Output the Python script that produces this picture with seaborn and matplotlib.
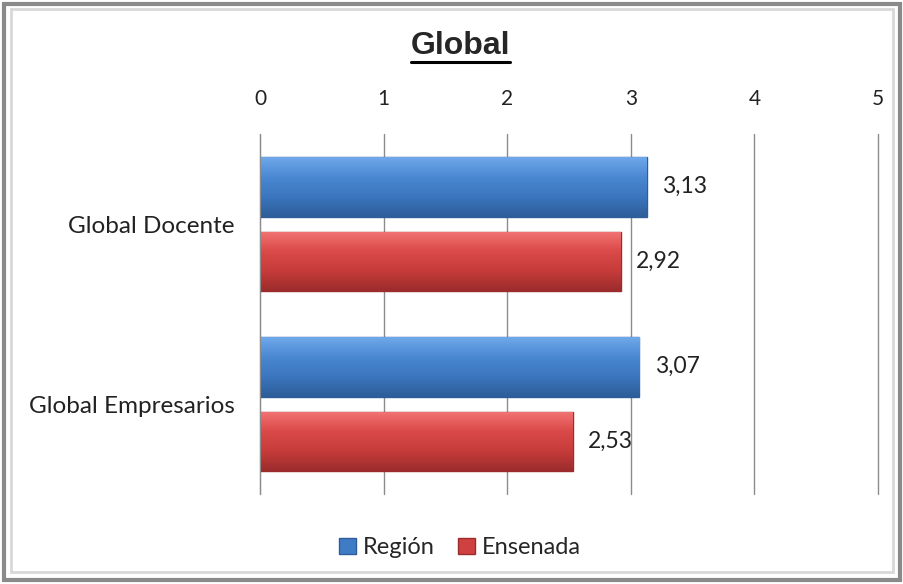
import numpy as np
import pandas as pd
import matplotlib
matplotlib.use("Agg")
import matplotlib.pyplot as plt
import seaborn as sns
from matplotlib.colors import LinearSegmentedColormap
from matplotlib.lines import Line2D
from matplotlib.patches import Rectangle

# ── Data ───────────────────────────────────────────────────
categories = ["Global Docente", "Global Empresarios"]
series = ["Región", "Ensenada"]
region_vals = [3.13, 3.07]
ensenada_vals = [2.92, 2.53]
x_ticks = [0, 1, 2, 3, 4, 5]

df = pd.DataFrame({
    "categoria": categories * 2,
    "serie": [series[0]] * 2 + [series[1]] * 2,
    "valor": region_vals + ensenada_vals,
})

colors = {"Región": "#3f7cc6", "Ensenada": "#cf4040"}
grads = {
    "Región": ["#6fa8ea", "#4a88d2", "#3b75bd", "#2e5d99"],
    "Ensenada": ["#f27474", "#da4a48", "#c63c3b", "#9c2c2c"],
}

sns.set_style("white")
plt.rcParams["font.family"] = ["Lato", "DejaVu Sans"]

fig = plt.figure(figsize=(9.04, 5.84), dpi=100)
ax = fig.add_axes([0.2876, 0.154, 0.6836, 0.6165])

sns.barplot(data=df, y="categoria", x="valor", hue="serie", orient="h",
            palette=colors, width=0.83, gap=0.2, ax=ax, legend=False,
            saturation=1)

# gradient fill on bars (pseudo 3D look)
for cont, s in zip(ax.containers, series):
    cmap = LinearSegmentedColormap.from_list(s, grads[s])
    for p in cont.patches:
        x0, y0 = p.get_x(), p.get_y()
        w, h = p.get_width(), p.get_height()
        p.set_edgecolor(grads[s][-1])
        p.set_linewidth(1.0)
        grad = np.linspace(0, 1, 100).reshape(-1, 1)
        im = ax.imshow(grad, cmap=cmap, aspect="auto",
                       extent=[x0, x0 + w, y0 + h, y0], zorder=2.5,
                       origin="upper")
        im.set_clip_path(p)
    labels = [f"{v:.2f}".replace(".", ",") for v in cont.datavalues]
    ax.bar_label(cont, labels=labels, padding=11, fontsize=16.5, color="#222222")

ax.set_xlim(0, 5)
ax.set_ylim(1.5, -0.5)
ax.set_xticks(x_ticks)
ax.xaxis.tick_top()
ax.tick_params(axis="x", length=0, labelsize=15, pad=18, colors="#222222")
ax.tick_params(axis="y", length=0, labelsize=17.5, pad=18, colors="#222222")
ax.set_xlabel("")
ax.set_ylabel("")
ax.grid(axis="x", color="#8c8c8c", linewidth=1)
for gl in ax.get_xgridlines():
    gl.set_clip_on(False)
ax.set_axisbelow(True)
for sp in ["top", "right", "bottom"]:
    ax.spines[sp].set_visible(False)
ax.spines["left"].set_color("#8c8c8c")

# title with underline
fig.text(0.509, 0.922, "Global", ha="center", va="center", fontsize=23,
         fontweight="bold", family="Liberation Sans")
fig.add_artist(Line2D([411 / 904, 510 / 904], [1 - 62 / 584, 1 - 62 / 584],
                      color="black", linewidth=2.2))

# legend
handles = [Rectangle((0, 0), 1, 1, facecolor=colors[s], edgecolor=grads[s][-1])
           for s in series]
fig.legend(handles, series, loc="center", bbox_to_anchor=(0.509, 0.062),
           ncol=2, frameon=False, fontsize=17, handlelength=0.7,
           handleheight=0.7, handletextpad=0.3, columnspacing=1.0)

# outer frame
fig.add_artist(Rectangle((0.004, 0.006), 0.992, 0.988, transform=fig.transFigure,
                         fill=False, edgecolor="#8a8a8a", linewidth=3))
fig.add_artist(Rectangle((0.012, 0.02), 0.976, 0.965, transform=fig.transFigure,
                         fill=False, edgecolor="#d8d8d8", linewidth=2))

fig.savefig("out.png", dpi=100)
